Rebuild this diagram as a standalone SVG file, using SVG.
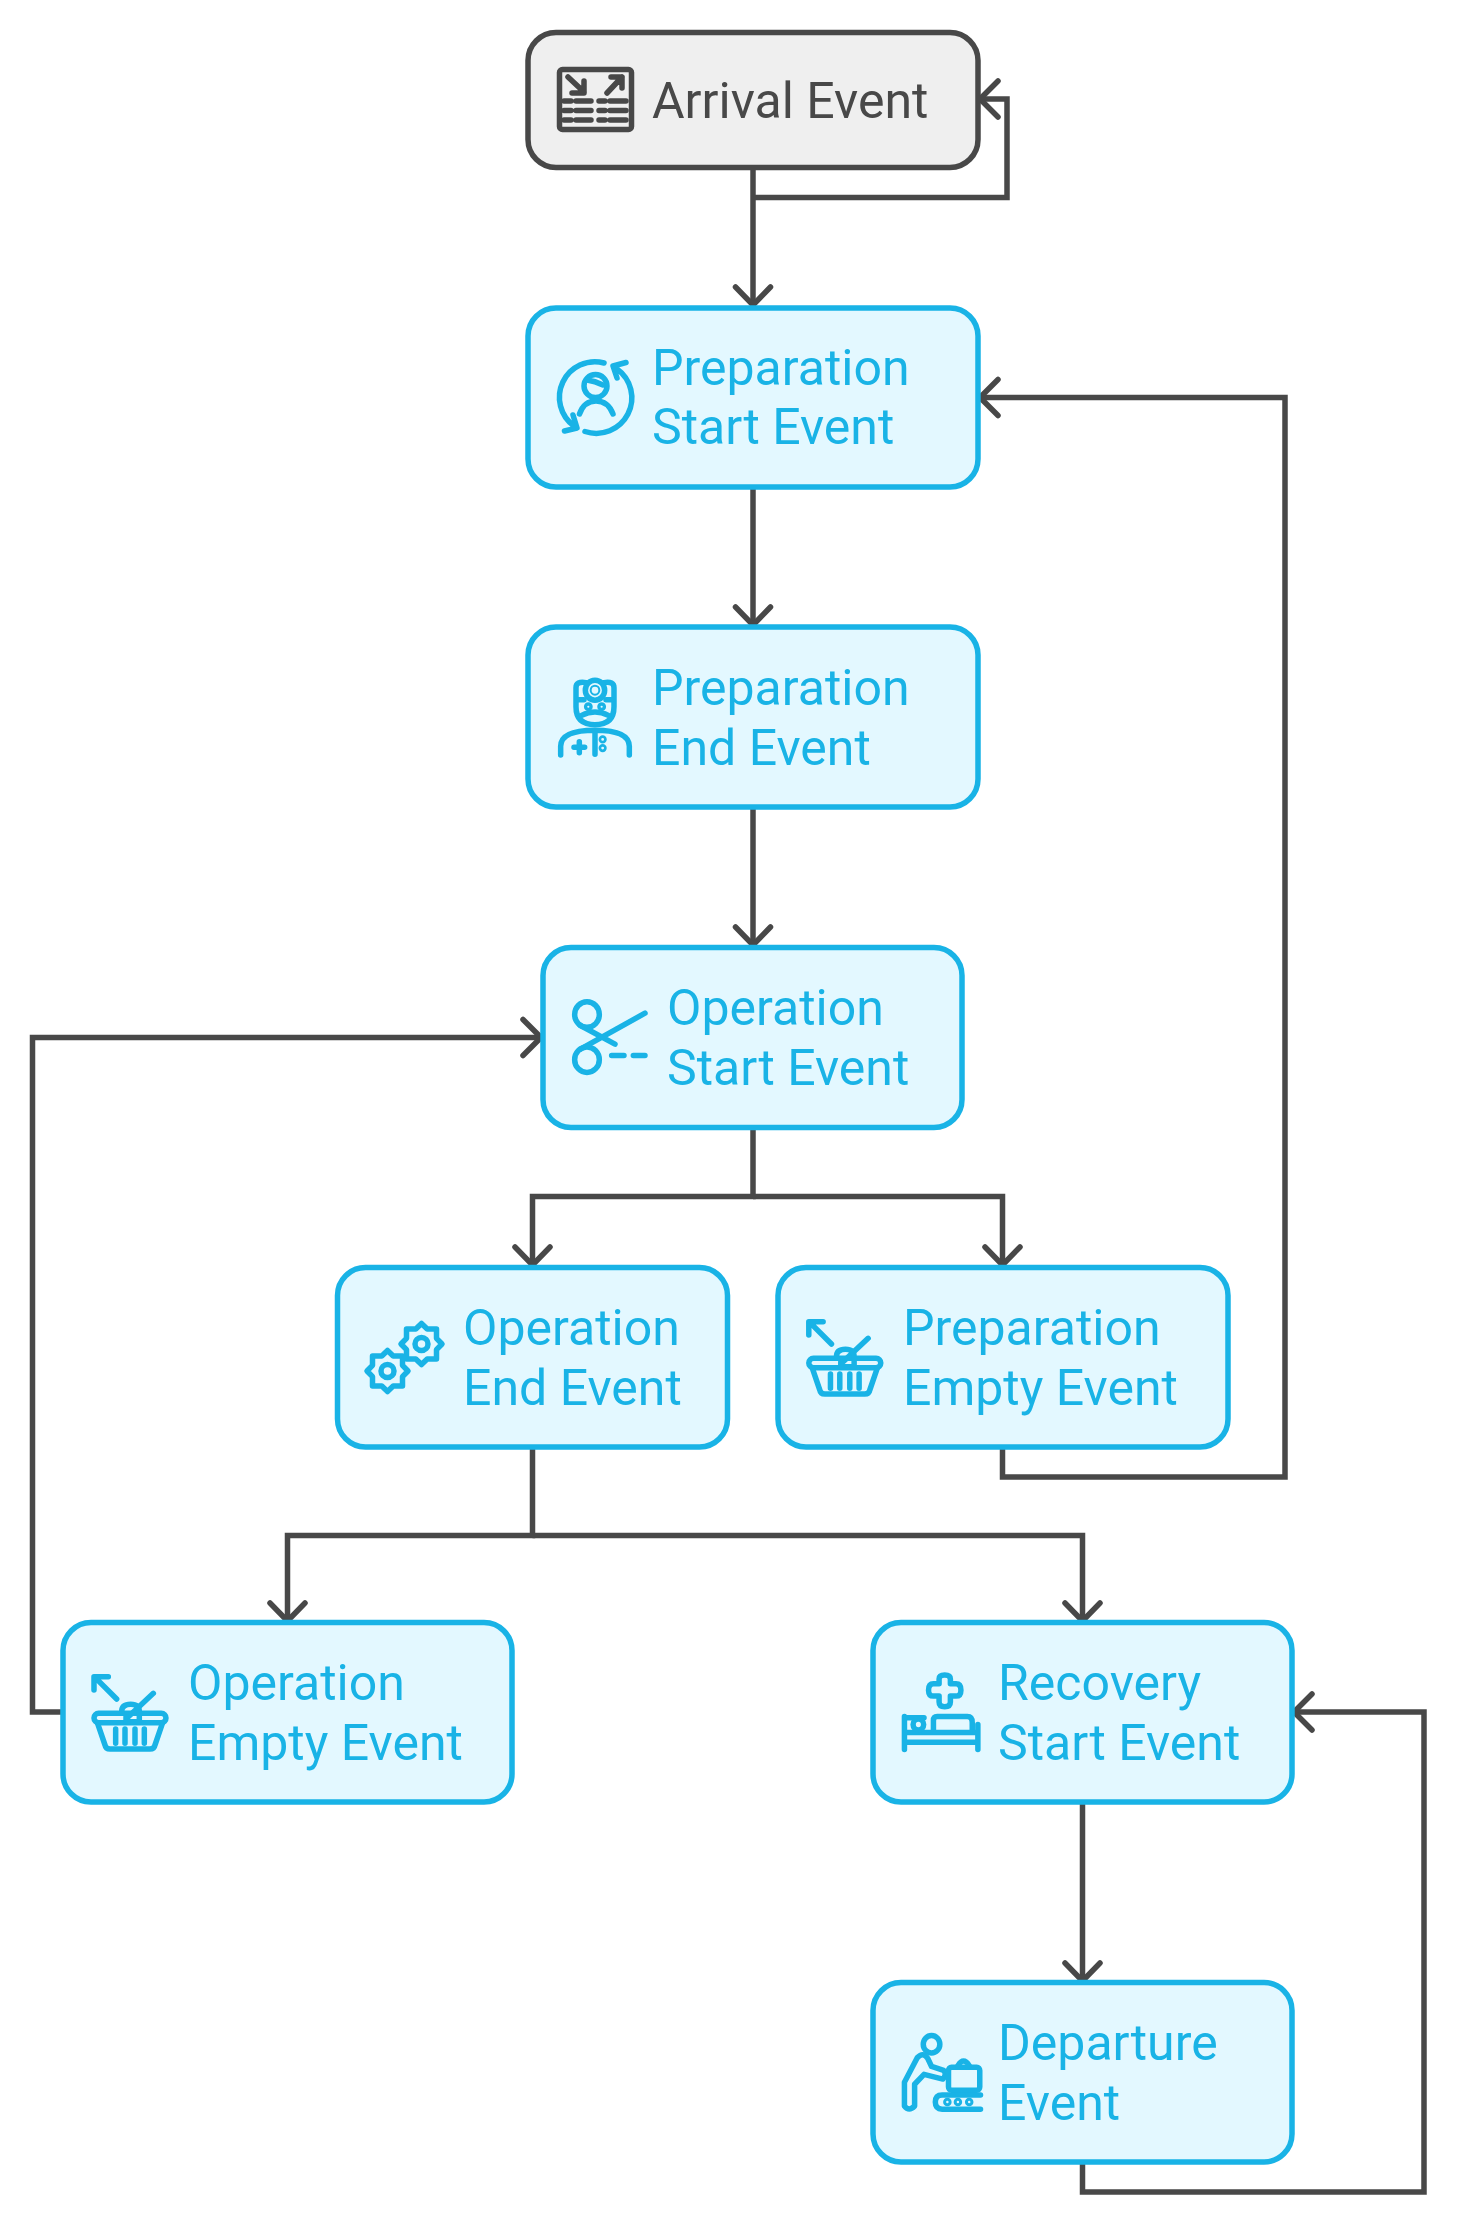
<svg xmlns="http://www.w3.org/2000/svg" width="1457" height="2225" viewBox="0 0 1457 2225">
<style>
.n{fill:#e3f8ff;stroke:#19b3e6;stroke-width:5.5}
.a{fill:#efefef;stroke:#484848;stroke-width:5.5}
text{font-family:Roboto,"Liberation Sans",sans-serif;font-size:50px;fill:#19b3e6}
.at{fill:#484848}
.c{fill:none;stroke:#484848;stroke-width:5.5;stroke-linejoin:miter}
.h{fill:none;stroke:#484848;stroke-width:5.5;stroke-linecap:round;stroke-linejoin:round}
.i{fill:none;stroke:#19b3e6;stroke-width:5.5;stroke-linecap:round;stroke-linejoin:round}
.i *{vector-effect:non-scaling-stroke}
.ig{fill:none;stroke:#484848;stroke-width:5.5;stroke-linecap:round;stroke-linejoin:round}
</style>
<defs>
<path id="hd" class="h" d="M-17.5 -18 L0 0 L17.5 -18"/>
<path id="hr" class="h" d="M18 -18 L0 0 L18 18"/>
<path id="hl" class="h" d="M-18 -18 L0 0 L-18 18"/>
<g id="basket" class="i">
<path d="M230 297 L165 232 M162 270 V230 H205 M340 280 L265 350"/>
<rect x="162" y="340" width="216" height="28" rx="14"/>
<path d="M172 368 L195 435 Q197 447 210 447 H330 Q343 447 345 435 L368 368"/>
<path d="M227 387 V430 M255 387 V430 M285 387 V430 M313 387 V430"/>
<path d="M245 340 V335 Q245 313 272 313 Q298 313 298 335 V365 H258 V350"/>
</g>
<path id="gear" d="M20.500 0L15 5.700L15 15L5.700 15L0 20.500L-5.700 15L-15 15L-15 5.700L-20.500 0L-15 -5.700L-15 -15L-5.700 -15L0 -20.500L5.700 -15L15 -15L15 -5.700Z"/>
</defs>

<g id="connectors">
<path class="c" d="M753 169 V305"/><use href="#hd" x="753" y="305"/>
<path class="c" d="M753 197.500 H1007 V99 H981"/><use href="#hr" x="980" y="99"/>
<path class="c" d="M753 489 V625"/><use href="#hd" x="753" y="625"/>
<path class="c" d="M753 809 V945"/><use href="#hd" x="753" y="945"/>
<path class="c" d="M753 1129 V1196.500 H532.500 V1264"/><use href="#hd" x="532.500" y="1265"/>
<path class="c" d="M753 1196.500 H1002.500 V1264"/><use href="#hd" x="1002.500" y="1265"/>
<path class="c" d="M1002.500 1449 V1477 H1285 V397.500 H981"/><use href="#hr" x="980" y="397.500"/>
<path class="c" d="M532.500 1449 V1535.500 H287.500 V1620"/><use href="#hd" x="287.500" y="1621"/>
<path class="c" d="M532.500 1535.500 H1082.500 V1620"/><use href="#hd" x="1082.500" y="1621"/>
<path class="c" d="M61 1712 H32.500 V1037.500 H540"/><use href="#hl" x="541" y="1037.500"/>
<path class="c" d="M1082.500 1804 V1980"/><use href="#hd" x="1082.500" y="1981"/>
<path class="c" d="M1082.500 2164 V2192 H1424 V1712 H1295"/><use href="#hr" x="1294" y="1712"/>
</g>

<g id="arrival">
<rect class="a" x="528" y="32.500" width="450" height="135" rx="28"/>
<g class="ig" transform="translate(557 67)">
<rect x="2.500" y="2.500" width="72" height="60" rx="3"/>
<path d="M11 10 L27 25 M27 14 V26 H15 M50 26 L65 10 M54 10 H65 V21 M7 34 H14 M19 34 H34 M42 34 H48 M53 34 H69 M7 43.500 H14 M19 43.500 H34 M42 43.500 H48 M53 43.500 H69 M7 53 H14 M19 53 H34 M42 53 H48 M53 53 H69"/>
</g>
<text class="at" x="652" y="118">Arrival Event</text>
</g>

<g id="prep-start">
<rect class="n" x="528" y="308" width="450" height="179" rx="28"/>
<g class="i" transform="translate(557 359)">
<path d="M47 4 A35.500 35.500 0 0 0 17 67 M7.500 72 L20 69 L16 56 M28 72.500 A35.500 35.500 0 0 0 60 10 M69 3.500 L56 7 L60 19"/>
<circle cx="38.500" cy="27" r="11.500"/>
<path d="M30 21 Q38 22 46 26 M22.500 55 Q27 42 39 42 Q51 42 56 55"/>
</g>
<text x="652" y="385">Preparation</text>
<text x="652" y="444">Start Event</text>
</g>

<g id="prep-end">
<rect class="n" x="528" y="627" width="450" height="180" rx="28"/>
<g class="i" transform="translate(500 600) scale(.3333 .3443)">
<path d="M258 240 Q228 235 228 255 V310 Q228 362 285 362 Q342 362 342 310 V255 Q342 235 312 240"/>
<circle cx="285" cy="262" r="29"/>
<circle cx="285" cy="262" r="13" style="stroke-width:2"/>
<circle cx="265" cy="310" r="5"/><circle cx="305" cy="310" r="5"/>
<path d="M245 335 Q285 315 325 335 M235 290 H252 M318 290 H335 M182 450 V425 Q182 378 285 378 Q388 378 388 425 V450 M285 385 V448 M222 428 H254 M238 412 V444"/>
<circle cx="308" cy="405" r="4"/><circle cx="308" cy="430" r="4"/>
</g>
<text x="652" y="705">Preparation</text>
<text x="652" y="765">End Event</text>
</g>

<g id="op-start">
<rect class="n" x="543" y="947.500" width="419" height="180" rx="28"/>
<g class="i" transform="translate(500 600) scale(.3333 .3443)">
<circle cx="261" cy="1204" r="37"/><circle cx="261" cy="1335" r="37"/>
<path d="M240 1235 L345 1290 M240 1305 L435 1200 M335 1323 H372 M400 1323 H435"/>
</g>
<text x="667" y="1025">Operation</text>
<text x="667" y="1085">Start Event</text>
</g>

<g id="op-end">
<rect class="n" x="337.500" y="1267.500" width="390" height="179.500" rx="28"/>
<g class="i">
<g transform="translate(421.500 1344)"><use href="#gear"/><circle r="6.500"/></g>
<g transform="translate(387.500 1371)"><use href="#gear"/><circle r="6.500"/></g>
</g>
<text x="463" y="1345">Operation</text>
<text x="463" y="1405">End Event</text>
</g>

<g id="prep-empty">
<rect class="n" x="778" y="1267.500" width="450" height="179.500" rx="28"/>
<use href="#basket" transform="translate(754.800 1245) scale(.3333)"/>
<text x="903" y="1345">Preparation</text>
<text x="903" y="1405">Empty Event</text>
</g>

<g id="op-empty">
<rect class="n" x="63" y="1622.500" width="449" height="179.500" rx="28"/>
<use href="#basket" transform="translate(40 1600) scale(.3333)"/>
<text x="188" y="1700">Operation</text>
<text x="188" y="1760">Empty Event</text>
</g>

<g id="recovery">
<rect class="n" x="873" y="1622.500" width="419" height="179.500" rx="28"/>
<g class="i" transform="translate(860 1600) scale(.3766 .3953)">
<path d="M210 200 Q210 190 225 190 Q240 190 240 200 V212 H255 Q268 212 268 228 Q268 243 255 243 H240 V258 Q240 270 225 270 Q210 270 210 258 V243 H195 Q182 243 182 228 Q182 212 195 212 H210 Z"/>
<path d="M118 295 V378 M313 315 V378 M118 335 H313 M118 360 H313 M118 298 H170 M195 330 V305 Q195 295 205 295 H285 Q298 295 298 310 V335"/>
<circle cx="155" cy="315" r="14"/>
</g>
<text x="998" y="1700">Recovery</text>
<text x="998" y="1760">Start Event</text>
</g>

<g id="departure">
<rect class="n" x="873" y="1982.500" width="419" height="179.500" rx="28"/>
<g class="i" transform="translate(860 1600) scale(.3766 .3953)">
<circle cx="190" cy="1124" r="22"/>
<path d="M118 1220 L152 1158 Q168 1142 180 1160 L190 1180 L222 1190 Q232 1200 220 1212 L170 1200 L145 1225 V1280 Q130 1295 118 1280 Z"/>
<rect x="235" y="1182" width="83" height="58" rx="8"/>
<path d="M260 1178 Q275 1155 290 1178 M320 1252 H218 Q200 1252 200 1270 Q200 1288 218 1288 H320"/>
<circle cx="232" cy="1270" r="4"/><circle cx="260" cy="1270" r="4"/><circle cx="290" cy="1270" r="4"/>
</g>
<text x="998" y="2060">Departure</text>
<text x="998" y="2120">Event</text>
</g>
</svg>
